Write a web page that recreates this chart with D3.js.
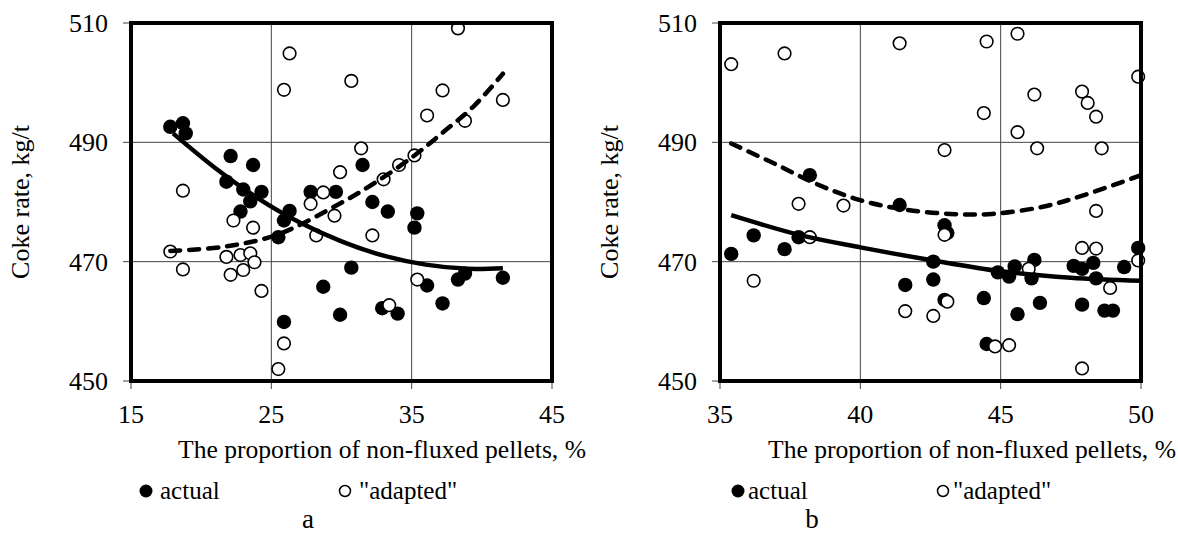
<!DOCTYPE html>
<html>
<head>
<meta charset="utf-8">
<script src="https://cdn.jsdelivr.net/npm/d3@7"></script>
<style>
    body { margin: 0; background: #fff; }
    svg { display: block; font-family: 'Liberation Serif', 'Times New Roman', serif; }
</style>
</head>
<body>
<div class="Canvas"></div>
<script>
// panel a : 15..45 %
let aActual = [
    [17.8, 492.6], [18.7, 493.2], [18.9, 491.5], [22.1, 487.7], [23.7, 486.2], [21.8, 483.4],
    [23.0, 482.1], [24.3, 481.7], [27.8, 481.7], [29.6, 481.7], [31.5, 486.2], [32.2, 480.0],
    [33.3, 478.4], [35.4, 478.1], [35.2, 475.7], [22.8, 478.4], [23.5, 480.1], [25.5, 474.1],
    [26.3, 478.5], [25.9, 476.9], [28.7, 465.8], [29.9, 461.1], [25.9, 459.9], [30.7, 469.0],
    [32.9, 462.2], [34.0, 461.3], [36.1, 466.0], [37.2, 463.0], [38.3, 467.0], [38.8, 468.0],
    [41.5, 467.3]
];
let aAdapted = [
    [26.3, 504.9], [25.9, 498.8], [18.7, 481.9], [29.9, 485.0], [28.7, 481.6], [38.3, 509.1],
    [30.7, 500.3], [37.2, 498.7], [41.5, 497.1], [36.1, 494.5], [38.8, 493.6], [31.4, 489.0],
    [35.2, 487.8], [34.1, 486.2], [33.0, 483.8], [17.8, 471.7], [18.7, 468.7], [21.8, 470.8],
    [22.8, 471.1], [23.5, 471.4], [23.8, 469.9], [22.1, 467.8], [23.0, 468.6], [24.3, 465.1],
    [22.3, 476.9], [23.7, 475.7], [27.8, 479.7], [29.5, 477.7], [28.2, 474.4], [25.9, 456.3],
    [25.5, 452.0], [32.2, 474.4], [33.4, 462.7], [35.4, 467.0]
];
let aActualTrend = [
    [18, 491.5], [21, 485.7], [24, 480.7], [27, 476.6], [30, 473.4], [33, 471.0], [36, 469.5], [39, 468.8], [41.5, 468.9]
];
let aAdaptedTrend = [
    [17.8, 471.8], [21.6, 472.5], [25.4, 474.5], [29.7, 479.5], [32.3, 483.1], [35.2, 487.8], [37.3, 491.8], [39.4, 496.0], [41.5, 501.5]
];

// panel b : 35..50 %
let bActual = [
    [35.4, 471.3], [36.2, 474.4], [37.3, 472.1], [37.8, 474.1], [38.2, 484.5], [41.4, 479.5],
    [43.0, 476.1], [43.1, 474.8], [42.6, 470.0], [42.6, 467.0], [41.6, 466.1], [43.0, 463.6],
    [44.4, 463.9], [44.5, 456.2], [44.9, 468.2], [45.3, 467.5], [45.5, 469.2], [45.6, 461.2],
    [46.1, 467.2], [46.2, 470.3], [46.4, 463.1], [47.6, 469.3], [47.9, 468.8], [47.9, 462.8],
    [48.3, 469.8], [48.4, 467.2], [48.7, 461.8], [49.0, 461.8], [49.4, 469.1], [49.9, 472.3]
];
let bAdapted = [
    [35.4, 503.1], [37.3, 504.9], [41.4, 506.6], [44.5, 506.9], [44.4, 494.9], [43.0, 488.7],
    [36.2, 466.8], [37.8, 479.7], [38.2, 474.1], [39.4, 479.4], [43.0, 474.5], [41.6, 461.7],
    [42.6, 460.9], [43.1, 463.3], [44.8, 455.8], [45.6, 508.2], [45.6, 491.7], [46.2, 498.0],
    [46.3, 489.0], [47.9, 498.5], [48.1, 496.6], [48.4, 494.3], [48.6, 489.0], [48.4, 478.5],
    [49.9, 501.0], [47.9, 472.3], [48.4, 472.2], [48.9, 465.6], [49.9, 470.2], [47.9, 452.1],
    [45.3, 456.0], [46.0, 468.8]
];
let bActualTrend = [
    [35.4, 477.8], [37.9, 474.4], [40, 472.4], [42.6, 470.2], [45, 468.4], [47.5, 467.3], [50, 466.8]
];
let bAdaptedTrend = [
    [35.4, 489.8], [37, 486.3], [38.5, 482.9], [40, 480.3], [41.5, 478.8], [43.2, 478.0], [44.7, 478.0], [46.5, 479.2], [48, 481.2], [50, 484.5]
];

let xTicksA = [15, 25, 35, 45];
let xTicksB = [35, 40, 45, 50];
let yTicks = [450, 470, 490, 510];

let yTitle = 'Coke rate, kg/t';
let xTitle = 'The proportion of non-fluxed pellets, %';
let legendLabels = ['actual', '"adapted"'];

let width = 1178;
let height = 538;
let plotTop = 23;
let plotBottom = 381;
let pointRadius = 7.2;

let svg = d3.select('.Canvas').append('svg').attr('width', width).attr('height', height);
svg.append('rect').attr('width', width).attr('height', height).attr('fill', '#fff');

function drawPanel(p) {
    let g = svg.append('g');
    let x = d3.scaleLinear().domain(p.xDomain).range([p.left, p.right]);
    let y = d3.scaleLinear().domain([450, 510]).range([plotBottom, plotTop]);

    // grid + tick marks
    g.selectAll('line.vgrid').data(p.xTicks).enter().append('line')
        .attr('x1', (d) => x(d)).attr('x2', (d) => x(d))
        .attr('y1', plotTop).attr('y2', plotBottom + 8)
        .attr('stroke', '#444').attr('stroke-width', 1);
    g.selectAll('line.hgrid').data(yTicks).enter().append('line')
        .attr('x1', p.left - 8).attr('x2', p.right)
        .attr('y1', (d) => y(d)).attr('y2', (d) => y(d))
        .attr('stroke', '#444').attr('stroke-width', 1);

    // points
    g.selectAll('circle.actual').data(p.actual).enter().append('circle')
        .attr('cx', (d) => x(d[0])).attr('cy', (d) => y(d[1]))
        .attr('r', pointRadius).attr('fill', '#000');
    g.selectAll('circle.adapted').data(p.adapted).enter().append('circle')
        .attr('cx', (d) => x(d[0])).attr('cy', (d) => y(d[1]))
        .attr('r', pointRadius - 0.9).attr('fill', '#fff')
        .attr('stroke', '#000').attr('stroke-width', 1.6);

    // trend lines
    let line = d3.line().x((d) => x(d[0])).y((d) => y(d[1])).curve(d3.curveCatmullRom);
    g.append('path').attr('d', line(p.actualTrend))
        .attr('fill', 'none').attr('stroke', '#000').attr('stroke-width', 4.5);
    g.append('path').attr('d', line(p.adaptedTrend))
        .attr('fill', 'none').attr('stroke', '#000').attr('stroke-width', 4.5)
        .attr('stroke-dasharray', '10,9').attr('stroke-linecap', 'round');

    // frame
    g.append('rect')
        .attr('x', p.left).attr('y', plotTop)
        .attr('width', p.right - p.left).attr('height', plotBottom - plotTop)
        .attr('fill', 'none').attr('stroke', '#000').attr('stroke-width', 4);

    // tick labels
    g.selectAll('text.ylab').data(yTicks).enter().append('text')
        .attr('x', p.left - 23).attr('y', (d) => y(d) + 9)
        .attr('text-anchor', 'end').attr('font-size', '26px')
        .text((d) => d);
    g.selectAll('text.xlab').data(p.xTicks).enter().append('text')
        .attr('x', (d) => x(d)).attr('y', plotBottom + 42)
        .attr('text-anchor', 'middle').attr('font-size', '26px')
        .text((d) => d);

    // titles
    g.append('text')
        .attr('transform', `translate(${p.left - 102}, ${(plotTop + plotBottom) / 2}) rotate(-90)`)
        .attr('text-anchor', 'middle').attr('font-size', '26px')
        .text(yTitle);
    g.append('text')
        .attr('x', p.titleX).attr('y', plotBottom + 77)
        .attr('font-size', '25.6px')
        .text(xTitle);

    // legend
    let ly = plotBottom + 110;
    g.append('circle').attr('cx', p.legend[0]).attr('cy', ly).attr('r', 6.5).attr('fill', '#000');
    g.append('text').attr('x', p.legend[0] + p.legendGap).attr('y', ly + 8)
        .attr('font-size', '25px').text(legendLabels[0]);
    g.append('circle').attr('cx', p.legend[1]).attr('cy', ly).attr('r', 5.5)
        .attr('fill', '#fff').attr('stroke', '#000').attr('stroke-width', 1.5);
    g.append('text').attr('x', p.legend[1] + p.legendGap).attr('y', ly + 8)
        .attr('font-size', '25px').text(legendLabels[1]);

    g.append('text').attr('x', p.letterX).attr('y', height - 10)
        .attr('text-anchor', 'middle').attr('font-size', '27px').text(p.letter);
}

drawPanel({
    xDomain: [15, 45], xTicks: xTicksA, left: 131, right: 552, titleX: 178,
    actual: aActual, adapted: aAdapted, actualTrend: aActualTrend, adaptedTrend: aAdaptedTrend,
    legend: [146, 345], legendGap: 14, letter: 'a', letterX: 308
});
drawPanel({
    xDomain: [35, 50], xTicks: xTicksB, left: 720, right: 1141, titleX: 768,
    actual: bActual, adapted: bAdapted, actualTrend: bActualTrend, adaptedTrend: bAdaptedTrend,
    legend: [738, 943], legendGap: 10, letter: 'b', letterX: 812
});
</script>
</body>
</html>
